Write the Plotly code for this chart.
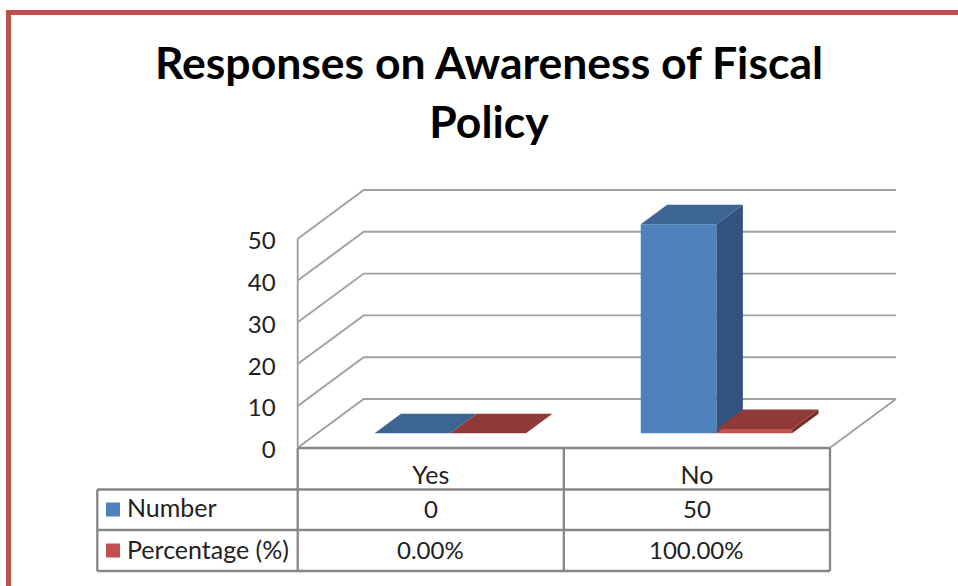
import plotly.graph_objects as go

# ---- data ----
title_lines = ["Responses on Awareness of Fiscal", "Policy"]
categories = ["Yes", "No"]
number_label = "Number"
percent_label = "Percentage (%)"
number_values = [0, 50]
percent_values = [0.0, 1.0]
percent_text = ["0.00%", "100.00%"]
y_ticks = [0, 10, 20, 30, 40, 50]

# ---- layout constants (pixels in a 958x586 page) ----
W, H = 958, 586
X0_PX, CAT_PX = 297.7, 266.15        # left of the front plane, width of one category
Y0_PX, UNIT_PX = 447.7, 4.18         # zero line, pixels per value unit
DEPTH_X_PX, DEPTH_Y_PX = 66.0, 48.7  # floor depth vector
BAR_W = 75.7 / CAT_PX
D_FRONT, D_BACK = 14.4 / DEPTH_Y_PX, 33.9 / DEPTH_Y_PX  # bar position within the depth
DX, DY = DEPTH_X_PX / CAT_PX, DEPTH_Y_PX / UNIT_PX
x_range = [-X0_PX / CAT_PX, (W - X0_PX) / CAT_PX]
y_range = [(Y0_PX - H) / UNIT_PX, Y0_PX / UNIT_PX]
LABEL_NUDGE = 2 / UNIT_PX  # tick labels sit about 2 px lower in this font's metrics


def P(u, v, d):
    """Oblique projection of category position u, value v, depth d."""
    return u + d * DX, v + d * DY


def py(px):
    return 1 - px / H


FONT = "Lato, Carlito, Calibri, sans-serif"
GRID = "#A0A0A0"
TABLE = "#868686"
BLUE, BLUE_TOP, BLUE_SIDE = "#4F81BD", "#3D6592", "#325380"
RED, RED_TOP, RED_SIDE = "#C4534F", "#8E3A38", "#772F2D"
TEXT = "#222222"
WORD_SIZE, NUM_SIZE = 25, 24

fig = go.Figure()
shapes, annotations = [], []

# walls and floor
c_end = len(categories)
for t in y_ticks:
    x1, y1 = P(0, t, 0)
    x2, y2 = P(0, t, 1)
    x3, y3 = P(c_end, t, 1)
    shapes.append(dict(type="path", path=f"M {x1} {y1} L {x2} {y2} L {x3} {y3}",
                       xref="x", yref="y", layer="below", line=dict(color=GRID, width=1.9)))
fx, fy = P(c_end, 0, 0)
bx, by = P(c_end, 0, 1)
shapes.append(dict(type="line", xref="x", yref="y", x0=fx, y0=fy, x1=bx, y1=by, layer="below",
                   line=dict(color=GRID, width=1.9)))
shapes.append(dict(type="line", xref="x", yref="y", x0=0, y0=0, x1=0, y1=y_ticks[-1], layer="below",
                   line=dict(color=GRID, width=1.9)))

# front faces
centres = [i + 0.5 + D_FRONT * DX for i in range(len(categories))]
bases = [D_FRONT * DY] * len(categories)
fig.add_trace(go.Bar(x=centres, y=number_values, base=bases, width=BAR_W, offset=-BAR_W,
                     marker=dict(color=BLUE, line=dict(width=0)), name=number_label, hoverinfo="skip"))
fig.add_trace(go.Bar(x=centres, y=percent_values, base=bases, width=BAR_W, offset=0,
                     marker=dict(color=RED, line=dict(width=0)), name=percent_label, hoverinfo="skip"))


def poly(points, color):
    xs = [p[0] for p in points] + [points[0][0]]
    ys = [p[1] for p in points] + [points[0][1]]
    fig.add_trace(go.Scatter(x=xs, y=ys, mode="lines", fill="toself", fillcolor=color,
                             line=dict(width=0, color=color), hoverinfo="skip", showlegend=False))


# side and top faces, back to front
for i in range(len(categories)):
    c = i + 0.5
    for left, right, v, top, side in (
        (c - BAR_W, c, number_values[i], BLUE_TOP, BLUE_SIDE),
        (c, c + BAR_W, percent_values[i], RED_TOP, RED_SIDE),
    ):
        if v > 0:
            poly([P(right, 0, D_FRONT), P(right, 0, D_BACK), P(right, v, D_BACK), P(right, v, D_FRONT)], side)
        poly([P(left, v, D_FRONT), P(right, v, D_FRONT), P(right, v, D_BACK), P(left, v, D_BACK)], top)

# data table grid
col_x = [X0_PX, X0_PX + CAT_PX, X0_PX + 2 * CAT_PX]
left_px = 97.3
row_y = [448, 489.5, 530, 571]
line = dict(color=TABLE, width=2.3)
for px in col_x:
    shapes.append(dict(type="line", xref="paper", yref="paper", x0=px / W, x1=px / W,
                       y0=py(row_y[0]), y1=py(row_y[3]), line=line))
shapes.append(dict(type="line", xref="paper", yref="paper", x0=left_px / W, x1=left_px / W,
                   y0=py(row_y[1]), y1=py(row_y[3]), line=line))
shapes.append(dict(type="line", xref="paper", yref="paper", x0=X0_PX / W, x1=col_x[2] / W,
                   y0=py(row_y[0]), y1=py(row_y[0]), line=line))
for ry in row_y[1:]:
    shapes.append(dict(type="line", xref="paper", yref="paper", x0=left_px / W, x1=col_x[2] / W,
                       y0=py(ry), y1=py(ry), line=line))


def label(x, y, text, anchor="center", size=NUM_SIZE):
    annotations.append(dict(xref="paper", yref="paper", x=x / W, y=py(y), text=text, showarrow=False,
                            xanchor=anchor, yanchor="middle", font=dict(family=FONT, size=size, color=TEXT)))


# table rows: swatch, series name, values
rows = [(number_label, [str(v) for v in number_values], BLUE, 509.5),
        (percent_label, percent_text, "#C0504D", 550.5)]
for name, vals, color, cy in rows:
    shapes.append(dict(type="rect", xref="paper", yref="paper", x0=106 / W, x1=120 / W,
                       y0=py(cy + 7), y1=py(cy - 7), fillcolor=color, line=dict(width=0)))
    label(124.5, cy - 2, name, "left", WORD_SIZE)
    for i, v in enumerate(vals):
        label(X0_PX + (i + 0.5) * CAT_PX, cy - 1, v)

# page frame, running off the right and bottom edges
shapes.append(dict(type="rect", xref="paper", yref="paper", x0=8.5 / W, x1=1.05, y0=-0.05, y1=py(12.5),
                   line=dict(color="#C0504D", width=5), layer="below"))

fig.update_layout(
    width=W, height=H, margin=dict(l=0, r=0, t=0, b=0),
    paper_bgcolor="white", plot_bgcolor="white", barmode="overlay", showlegend=False,
    shapes=shapes, annotations=annotations,
    title=dict(
        text="<br>".join(f'<span style="font-size:44.5px">{t}</span>' for t in title_lines),
        x=489 / W, xanchor="center", y=py(79), yanchor="top",
        font=dict(family=FONT, size=45, color="#000000", weight="bold"),
    ),
    xaxis=dict(range=x_range, anchor="free", position=py(Y0_PX), tickmode="array",
               tickvals=[i + 0.5 for i in range(len(categories))], ticktext=categories,
               showgrid=False, zeroline=False, showline=False, ticks="", ticklabelstandoff=10,
               tickfont=dict(family=FONT, size=WORD_SIZE, color=TEXT)),
    yaxis=dict(range=y_range, anchor="free", position=X0_PX / W, tickmode="array",
               tickvals=[t - LABEL_NUDGE for t in y_ticks], ticktext=[str(t) for t in y_ticks],
               showgrid=False, zeroline=False, showline=False, ticks="",
               ticklabelstandoff=22, tickfont=dict(family=FONT, size=NUM_SIZE, color=TEXT)),
)

fig.write_html("out.html", config={"displayModeBar": False},
               post_script="document.body.style.margin='0';")
